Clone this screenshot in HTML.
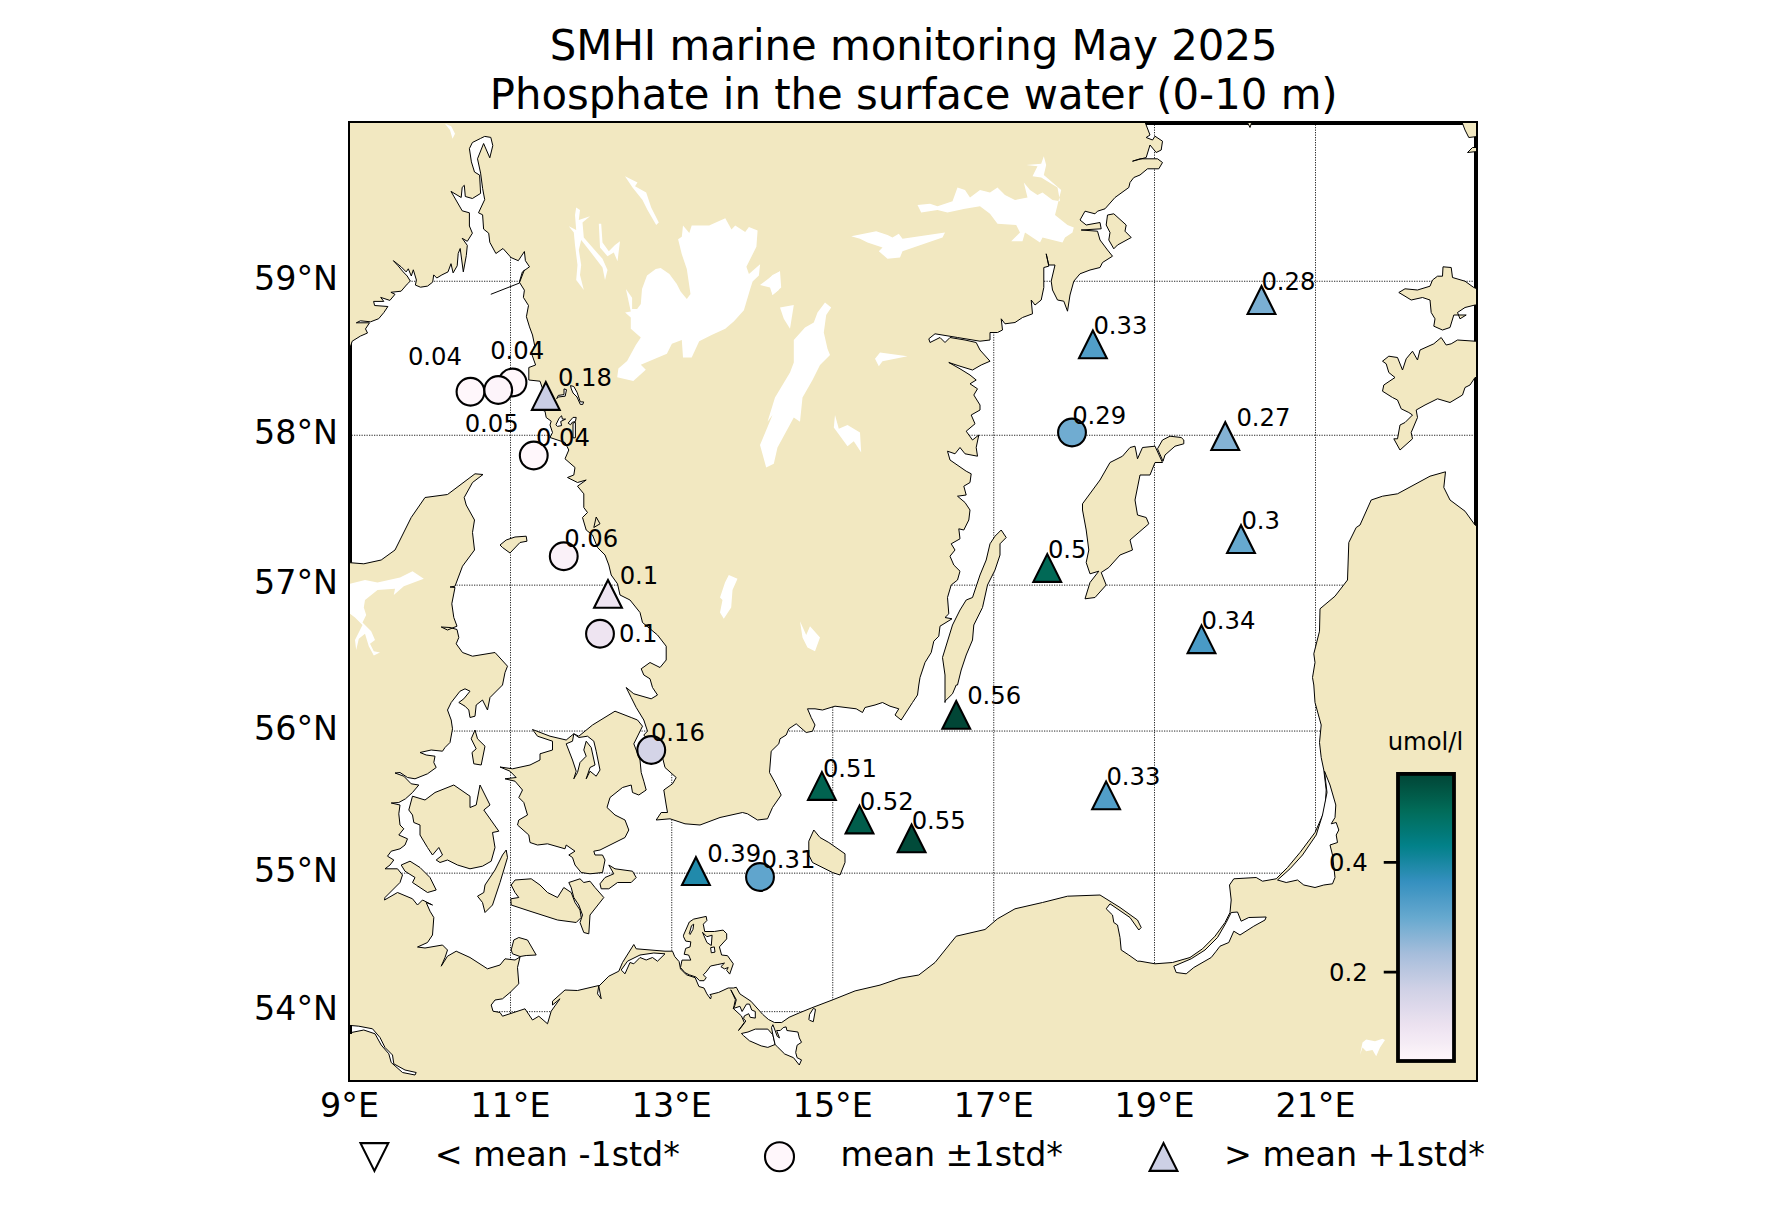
<!DOCTYPE html>
<html><head><meta charset="utf-8"><title>SMHI marine monitoring May 2025</title>
<style>
html,body{margin:0;padding:0;background:#fff;}
body{width:1773px;height:1227px;overflow:hidden;}
svg{display:block;font-family:"DejaVu Sans","Liberation Sans",sans-serif;fill:#000;}
.t{font-size:41.8px;text-anchor:middle;}
.k{font-size:33.33px;}
.l{font-size:24.3px;}
.g{stroke:#000;stroke-width:1;stroke-dasharray:1.25 1.25;fill:none;opacity:.85}
.c{fill:#f2e8c1;stroke:#000;stroke-width:1;stroke-linejoin:round;}
.w{fill:#fff;stroke:none;}
.f{fill:#fff;stroke:#000;stroke-width:1;stroke-linejoin:round;}
</style></head><body>
<svg width="1773" height="1227" viewBox="0 0 1773 1227">
<defs><clipPath id="m"><rect x="349" y="122" width="1128" height="959"/></clipPath>
<linearGradient id="cb" x1="0" y1="1" x2="0" y2="0">
<stop offset="0.0000" stop-color="#fff7fb"/>
<stop offset="0.0312" stop-color="#faf2f8"/>
<stop offset="0.0625" stop-color="#f5ecf5"/>
<stop offset="0.0938" stop-color="#f1e7f3"/>
<stop offset="0.1250" stop-color="#ece2f0"/>
<stop offset="0.1562" stop-color="#e5deed"/>
<stop offset="0.1875" stop-color="#ded9eb"/>
<stop offset="0.2188" stop-color="#d7d5e8"/>
<stop offset="0.2500" stop-color="#d0d1e6"/>
<stop offset="0.2812" stop-color="#c5cce3"/>
<stop offset="0.3125" stop-color="#bbc7e0"/>
<stop offset="0.3438" stop-color="#b0c2de"/>
<stop offset="0.3750" stop-color="#a5bddb"/>
<stop offset="0.4062" stop-color="#95b8d8"/>
<stop offset="0.4375" stop-color="#86b3d5"/>
<stop offset="0.4688" stop-color="#76aed2"/>
<stop offset="0.5000" stop-color="#66a9cf"/>
<stop offset="0.5312" stop-color="#5aa2cb"/>
<stop offset="0.5625" stop-color="#4e9cc7"/>
<stop offset="0.5938" stop-color="#4196c3"/>
<stop offset="0.6250" stop-color="#3590bf"/>
<stop offset="0.6562" stop-color="#288cb1"/>
<stop offset="0.6875" stop-color="#1b88a4"/>
<stop offset="0.7188" stop-color="#0e8496"/>
<stop offset="0.7500" stop-color="#028189"/>
<stop offset="0.7812" stop-color="#027b7d"/>
<stop offset="0.8125" stop-color="#017670"/>
<stop offset="0.8438" stop-color="#017164"/>
<stop offset="0.8750" stop-color="#016b58"/>
<stop offset="0.9062" stop-color="#01614f"/>
<stop offset="0.9375" stop-color="#015846"/>
<stop offset="0.9688" stop-color="#014e3e"/>
<stop offset="1.0000" stop-color="#014636"/>
</linearGradient></defs>
<rect width="1773" height="1227" fill="#fff"/>
<text class="t" transform="translate(913.7,60) scale(1,1.037)">SMHI marine monitoring May 2025</text>
<text class="t" transform="translate(913.7,108.5) scale(1,1.037)">Phosphate in the surface water (0-10 m)</text>
<g clip-path="url(#m)">
<path class="g" d="M510.5 122V1081"/>
<path class="g" d="M671.75 122V1081"/>
<path class="g" d="M832.75 122V1081"/>
<path class="g" d="M993.75 122V1081"/>
<path class="g" d="M1154.5 122V1081"/>
<path class="g" d="M1315.5 122V1081"/>
<path class="g" d="M349 281.25H1477"/>
<path class="g" d="M349 435.25H1477"/>
<path class="g" d="M349 585.15H1477"/>
<path class="g" d="M349 731.05H1477"/>
<path class="g" d="M349 873.15H1477"/>
<path class="g" d="M349 1011.65H1477"/>
<path d="M1100 123H1478M1476 122V600M350 300V600" stroke="#000" stroke-width="4" fill="none"/>
<path class="c" d="M340 110 L340 347 L350.2 347.3 L352.2 341.2 L360.4 336.1 L367.5 333 L365.5 328.9 L369.5 322.8 L356.3 322.8 L360.4 320.8 L370.6 321.8 L378.7 318.7 L383.8 312.6 L387.9 306.5 L374.6 305.5 L373.6 301.4 L383.8 301.4 L380.7 297.4 L389.9 300.4 L395 294.3 L390.9 292.3 L401.1 291.2 L407.2 284.1 L410.3 281.1 L407.2 276 L403.2 271.9 L398.1 265.8 L393.4 260.7 L401.1 266.8 L406.2 271.9 L408.3 268.8 L411.3 276 L413.3 269.8 L416.4 280 L415.4 285.1 L420.5 287.2 L427.6 286.1 L432.7 282.1 L433.7 274.9 L436.8 278 L441.9 274.9 L448 271.9 L451 263.7 L453.1 272.9 L457.2 265.8 L458.2 253.5 L460.2 248.5 L463.3 271.9 L466.3 255.6 L467.3 245.4 L462.2 238.3 L467.3 241.3 L472.4 233.2 L469.4 226 L469.4 212.8 L462.2 210.8 L451 191.4 L461.2 197.5 L462.2 187.3 L464.3 185.3 L465.3 196.5 L472.4 198.5 L480.6 193.4 L479.6 175.1 L474.5 172 L471.4 161.9 L469.4 148.6 L472.4 142.5 L480.6 138.4 L484.7 136.4 L490.8 137.4 L492.8 145.6 L489.8 157.8 L483.6 143.5 L477.5 158.8 L480.6 173.1 L482.6 188.3 L484.7 199.6 L478.5 212.8 L482.6 214.8 L483.6 229.1 L488.7 233.2 L489.8 242.3 L495.9 253.5 L503 248.5 L511.1 257.6 L518.3 260.7 L524.4 251.5 L525.4 260.7 L529.5 266.8 L522.4 271.9 L519.3 282.1 L524.4 290.2 L523.4 297.4 L528.5 305.5 L526.4 316.7 L529.5 326.9 L532.5 335 L534.6 345.2 L531.5 353.4 L535.6 365 L528.8 367.5 L528.8 380 L540 381.2 L543 390 L542 410 L545 411.2 L546.2 417.5 L551.2 421.2 L550 425 L552.5 432.5 L550 437.5 L565 442.5 L568.8 450 L565 458.8 L575 467.5 L573.8 475 L567.5 477.5 L577.5 482.5 L586.2 480 L577.5 486.2 L583.8 493.8 L583.8 507.5 L587.5 512.5 L582.5 517.5 L586.2 530 L592.5 535 L597.5 547.5 L605 555 L608.8 565 L611.2 575 L617.5 583.8 L620 595 L630 600 L640 612.5 L642.5 622.5 L657.5 635 L666.2 646.2 L666.2 660 L660 667.5 L650 662.5 L641.2 668.8 L643.8 675 L650 678.8 L652.5 687.5 L657.5 695 L651.2 698.8 L633.8 693.8 L626.2 687.5 L631.2 697.5 L636.2 707.5 L643.8 720 L647.5 731.2 L643.8 735 L662.5 757.5 L665 767.5 L676.2 777.5 L672.5 783.8 L663.8 790 L666.2 805 L667.5 812.5 L661.2 812.5 L656.2 820 L670 818.8 L685 823.8 L700 825 L720 817.5 L742.5 812.5 L747.5 813.8 L757.5 820 L767.5 818.8 L772.5 807.5 L781.2 795 L775 782.5 L769.5 772.5 L771.2 751.2 L778.8 743.8 L780 738.8 L786.2 735 L788.8 728.8 L796.2 723.8 L806.2 732.5 L812.5 731.2 L815 725 L811.2 717.5 L807.5 708.8 L815 708.8 L822.5 710 L835 706.2 L856.2 708.8 L862.5 712.5 L865 707.5 L875 705 L882.5 702.5 L890 706.2 L898.8 708.8 L895 715 L901.2 720 L912.5 702.5 L917.5 695 L918.8 685 L920 677.5 L925 662.5 L931.2 652.5 L933.8 641.2 L938.8 636.2 L940 626.2 L952 618.8 L945 617.5 L948.8 613.8 L947.5 597.5 L951.2 585 L957.5 580 L960 571.2 L953.8 565 L950 556.2 L955 550 L951.2 543.8 L960 538.8 L958.8 528.8 L963.8 530 L968.8 520 L970 510 L965 502.5 L957.5 496.2 L966.2 495 L963.8 486.2 L970 482.5 L971.2 473.8 L966.2 471.2 L950 460 L947.5 451.2 L955 453.8 L960 447.5 L965 453.8 L977.5 456.2 L976.2 447.5 L978.8 435 L972.5 440 L966.2 431.2 L975 423.8 L971.2 415 L980 410 L980 405 L973.8 395 L977.5 388.8 L970 383.8 L976.2 380 L970 375 L960 368.8 L948.8 362.5 L960 366.2 L972.5 370 L981.2 365 L990 361.2 L980 350 L976.2 342.5 L965 340 L950 337.5 L945 342.5 L940 337.5 L930 342.5 L928.8 338.8 L935 333.8 L957.5 337.5 L980 341.2 L990 340 L990 332.5 L997.5 332.5 L1002.5 330 L1001.2 318.8 L1005 323.8 L1015 322.5 L1022.5 317.5 L1032.5 313.8 L1031.2 300 L1035 305 L1041.2 300 L1043.8 287.5 L1043.8 267.5 L1048.8 266.2 L1046.2 253.8 L1048.8 265 L1055 265 L1051.2 281.2 L1052.5 290 L1057.5 300 L1063.8 301.2 L1067.5 311.2 L1070 295 L1073.8 281.2 L1080 273.8 L1090 270 L1100 267.5 L1102.5 262.5 L1112.5 256.2 L1107.5 250 L1100 240 L1097.5 231.2 L1081.2 230 L1101.2 228.8 L1100 222.5 L1086.2 225 L1080 220 L1085 211.2 L1095 213.8 L1097.5 211.2 L1105 208.8 L1115 197.5 L1128.8 187.5 L1130 182.5 L1133.8 177.5 L1140 175 L1147.5 168.8 L1158.8 168.8 L1162.5 162.5 L1157.5 158.8 L1140 158.8 L1132.5 161.2 L1146.2 157.5 L1150 145 L1156.2 152.5 L1161.2 150 L1162.5 141.2 L1155 136.2 L1152.5 140 L1146.2 137.5 L1150 135 L1145 122 L1145 110Z"/>
<path class="c" d="M340 562 L347.5 562.5 L363.8 563.8 L381.2 560 L395 550 L411.2 517.5 L425 497.5 L447.5 494.5 L475 473.8 L483 474.5 L472.5 482.5 L464.2 497.5 L466.2 505 L474.5 520 L472.5 532.5 L474.5 550 L462.5 566.2 L455 586.2 L450 587 L455 587.5 L451.8 603.8 L453.8 617.5 L457 626.2 L447.5 630 L441.2 627 L450 627.5 L457 629.5 L458.8 637.5 L456.2 643.8 L462.5 652.5 L472.5 656.2 L495 652.5 L507.5 666.2 L505 672.5 L502.5 685 L490 697.5 L487.5 710 L482.5 700 L476.2 705 L475 716.2 L470 717.5 L468.8 710 L465 706.2 L458.8 702.5 L463.8 698.8 L470 691.2 L465 688.8 L460 691.2 L451.2 702.5 L447.5 710 L451.2 720 L452.5 728.8 L450 742.5 L445 747.5 L442.5 751.2 L431.2 750 L420 752.5 L426.2 755 L435 756.2 L433.8 762.5 L436.2 767.5 L427.5 773.8 L415 778.8 L407.5 777.5 L400 772.5 L395 773 L403.8 776.2 L411.2 783.8 L418.8 785 L412.5 792.5 L405.5 798.8 L398.8 802.5 L391.2 803 L400 805 L398.8 813.8 L400 825 L403.8 828.8 L398.8 835 L407.5 838.8 L405 845 L400 848.8 L391.2 851.2 L387.5 856.2 L393.8 860 L390 865 L385 868.8 L397.5 868.8 L402.5 875 L400 882.5 L385 897.5 L384.5 900 L397.5 892.5 L412.5 898.8 L417.5 905 L422.5 900 L432.5 905 L426.2 902.5 L430 911.2 L433.8 917.5 L432.5 935 L427.5 942.5 L417.5 947 L425 948 L442.5 945 L447.5 950 L445 957.5 L441.2 966.2 L447.5 956.2 L456.2 951.2 L470 957.5 L487.5 968.8 L500 965 L505 958.8 L515 960 L520 957 L517.5 967.5 L518.8 983.8 L510 992.5 L502.5 998.8 L495 1000 L491.2 1005 L493 1011.2 L500 1012.5 L502.5 1016.2 L525 1008.8 L532.5 1020 L538.8 1016.2 L547.5 1023.8 L551.2 1011.2 L560 998.8 L552.5 1005 L552.5 1001.2 L565 990 L577.5 990.5 L598.8 985.5 L597.5 993.8 L601.2 998.8 L598.8 986.2 L608.8 976.2 L618.8 971.2 L622.5 962.5 L633.8 944.5 L636.2 948.8 L665 951.2 L672.5 951.2 L674.7 956.5 L679.1 961.6 L680.5 968.9 L686.4 974.8 L695.2 977.7 L698.9 986.5 L704 988 L706.9 993.9 L710.6 999 L711.3 996.1 L709.9 994.6 L718.7 992.4 L728.2 988 L733.3 988 L736.3 987.3 L739.9 993.9 L750.9 1001.2 L762.7 1014.4 L768.5 1019.5 L774.4 1022.5 L781.7 1022.5 L789.1 1017.3 L799.3 1012.9 L811.8 1007.8 L833.1 999.7 L855.1 990.9 L880 985.1 L900 978.2 L918.8 975 L935 962.5 L950 943.8 L956.2 936.2 L985 929.5 L997.5 918.8 L1015 908.8 L1042.5 902.5 L1067.5 896.2 L1100 895 L1120 907.5 L1137.5 920 L1141.2 927.5 L1138.8 930 L1130 917.5 L1110 903.8 L1106.2 908.8 L1112.5 915 L1113.8 922.5 L1117.5 925 L1120 937.5 L1121.2 950 L1128.8 955 L1137.5 961.2 L1140 961.2 L1155 963.8 L1172.5 962.5 L1190 957.5 L1202.5 948.8 L1215 936.2 L1225 922.5 L1230 912.5 L1231.2 900 L1229.5 885 L1233.8 878.8 L1256.2 877.5 L1262.5 881.2 L1276.2 878.8 L1287.5 867.5 L1300 852.5 L1315 832.5 L1325 810 L1326.2 790 L1323.8 770 L1321.2 757.5 L1319.5 742.5 L1321.2 725 L1315 702.5 L1313.8 685 L1312.5 677.5 L1315 662.5 L1313.8 653.8 L1319.5 631.2 L1320 608.8 L1335 596.2 L1347.5 580 L1348.8 542.5 L1356.2 527.5 L1360 525 L1371.2 500 L1382.5 496.2 L1397.5 493.8 L1430 476.2 L1445.5 471.8 L1443.8 487.5 L1450 500 L1465 511.2 L1475 525 L1477.5 526.2 L1490 526 L1490 1090 L340 1090Z"/>
<path class="c" d="M1107.5 215 L1113.8 213.8 L1126.2 225 L1125 231.2 L1131.2 237.5 L1117.5 245 L1113.8 248.8 L1108.8 240 L1110 232.5 L1106.2 225Z"/>
<path class="c" d="M1398.8 292.5 L1405 288.8 L1417.5 290 L1430 286.2 L1432.5 280 L1437.5 276.2 L1442.5 276.2 L1443 266.8 L1451.2 267.5 L1452.5 277.5 L1465 281.2 L1473.8 287.5 L1480 290 L1480 305 L1475 305 L1465 307.5 L1457.5 312.5 L1460 318.8 L1466.2 315 L1453.8 315 L1450 327.5 L1442.5 330 L1433.8 326.2 L1435 318.8 L1431.2 312.5 L1430 300 L1422.5 297.5 L1411.2 300 L1405 296.2Z"/>
<path class="c" d="M1382.5 361.2 L1388.8 356.2 L1397.5 357.5 L1402.5 370 L1406.2 358.8 L1412.5 351.2 L1417.5 360 L1420 350 L1433.8 343.8 L1441.2 337.5 L1446.2 345 L1451.2 343.8 L1457.5 340 L1475 341.2 L1482.5 341.2 L1482.5 377.5 L1475 377.5 L1470 385 L1465 387.5 L1462.5 395 L1450 402.5 L1437.5 398.8 L1425 405 L1416.2 410 L1417.5 417.5 L1411.2 432.5 L1412.5 438.8 L1400 450 L1393.8 438.8 L1397.5 438.8 L1400 425 L1405 422.5 L1412.5 415 L1408.8 412.5 L1401.2 408.8 L1397.5 400 L1392.5 397.5 L1382.5 391.2 L1383.8 385 L1395 377.5 L1388.8 372.5 L1386.2 363.8Z"/>
<path class="c" d="M1461.2 120 L1480 120 L1480 136.2 L1468.8 137.5 L1465 130Z"/>
<path class="c" d="M1467.5 152.5 L1472.5 147.5 L1480 147.5 L1480 151.2Z"/>
<path class="c" d="M1246.2 120 L1252.5 120 L1250 127.5Z"/>
<path class="c" d="M596.2 517 L600 523.8 L593.8 527.5Z"/>
<path class="c" d="M500 545 L506.2 540 L515 537 L526.2 536.2 L527 541.2 L520 542.5 L510 553 L502.5 547.5Z"/>
<path class="c" d="M1001.2 530 L1006.2 537.5 L1000 543.8 L1000 555 L995 570 L987.5 585 L982.5 607.5 L973.8 625 L972.5 640 L966.2 655 L961.2 670 L957.5 685 L956.2 685 L952.5 693.8 L945 701.2 L945 702.5 L945 675 L942.5 657.5 L952.5 625 L960 610 L966.2 600 L972.5 597.5 L980 575 L986.2 560 L990 543.8 L995 536.2Z"/>
<path class="c" d="M1085 598.8 L1090 582.5 L1098.8 571.2 L1090 573.8 L1086.2 562.5 L1088.8 550 L1086.2 530 L1082.5 510 L1082.5 503.8 L1100 480 L1110 462.5 L1122.5 456.2 L1130 447.5 L1135 446.2 L1137.5 458.8 L1142.5 447.5 L1155 446.2 L1162.5 462.5 L1155 462.5 L1150 475 L1140 475 L1135 500 L1137.5 515 L1146.2 517.5 L1148.8 523.8 L1130 540 L1132.5 550 L1120 555 L1108.8 567.5 L1101.2 572.5 L1106.2 585 L1095 597.5Z"/>
<path class="c" d="M1157.5 448.8 L1162.5 440 L1170 436.2 L1181.2 437.5 L1183.8 440 L1183.8 443.8 L1175 446.2 L1165 455 L1163 461.2Z"/>
<path class="c" d="M401.2 865 L410 861.2 L420 867.5 L430 877.5 L436.2 890 L427.5 892.5 L420 887.5 L412.5 882.5 L415 877.5 L405 871.2Z"/>
<path class="c" d="M412.5 796.2 L425 800 L435 792.5 L453.8 785 L470 796.2 L470 807.5 L476.2 805 L480 785 L490 805 L483.8 810 L498.8 831.2 L492.5 832.5 L495 847.5 L491.2 861.2 L482.5 866.2 L470 868.8 L457.5 865 L447.5 860 L440 862.5 L436.2 860 L442.5 855 L438.8 847.5 L432.5 855 L427.5 847.5 L420 835 L420 825 L413.8 822.5 L412.5 815 L408.8 810Z"/>
<path class="c" d="M506.2 850 L507.5 857.5 L500 882.5 L492.5 905 L485 912.5 L482.5 902.5 L477.5 896.2 L483.8 892.5 L485 885 L495 870 L502.5 855Z"/>
<path class="c" d="M475 730 L477.5 738.8 L485 746.2 L481.2 765 L473.8 763.8 L472 752.5 L476.2 748.8 L471.2 738.8Z"/>
<path class="c" d="M500 767 L512.5 768.8 L530 765 L540 760 L540 753.8 L552.5 750 L552.5 741.2 L537.5 736.2 L532.5 729.5 L550 736.2 L566.2 740 L573.8 733.8 L578.8 736.2 L592.5 725 L615 711.2 L631.2 717.5 L637.5 720 L642.5 726.2 L633.8 743.8 L640 760 L641.2 772.5 L643.8 781.2 L646.2 790 L638.8 795 L632.5 792.5 L631.2 785 L622.5 787.5 L610 797.5 L607 807.5 L615 815 L625 820 L628.8 830 L625 837.5 L610 845 L600 850 L593.8 851.2 L595 855 L602.5 855 L605 860 L602.5 872.5 L590 873.8 L581.2 872.5 L575 865 L572.5 857.5 L568.8 855 L575 851.2 L566.2 845 L565 848.8 L547.5 843.8 L537.5 845 L530 842.5 L528.8 835 L517.5 825 L518.8 820 L527.5 815 L523.8 802.5 L518.8 797.5 L522.5 790 L515 781.2 L505 778.8 L516.2 777.5 L510 771.2Z"/>
<path class="c" d="M511.2 885 L515 880 L531.2 878.8 L540 885 L547.5 892.5 L557.5 897.5 L563.8 887.5 L571.2 892.5 L575 902.5 L580 910 L581.2 917.5 L576.2 922.5 L557.5 920 L530 911.2 L511.2 905 L510.8 898.8 L518.8 897.5 L515 892.5Z"/>
<path class="c" d="M568.8 882.5 L580 878.8 L583.8 882.5 L590 881.2 L595 887.5 L603.8 897.5 L590 915 L588.8 933.8 L583.8 932.5 L580 922.5 L582.5 915 L578.8 905 L573.8 897.5 L571.2 887.5Z"/>
<path class="c" d="M600 883.8 L605 877.5 L613.8 873.8 L608.8 865 L615 868.8 L632.5 871.2 L636.2 877.5 L631.2 882.5 L617.5 882.5 L608.8 888.8 L601.2 888.8Z"/>
<path class="c" d="M683.5 935.2 L689.3 922 L693.7 919.1 L706.2 916.4 L706.9 920.5 L703.3 924.2 L704.7 931.5 L714.3 931.5 L723.1 930.1 L726.7 933.7 L726.7 938.9 L719.4 946.9 L721.6 955 L727.5 955.7 L733.3 963.8 L729.7 974.1 L726.7 970.4 L728.2 967.5 L724.5 968.9 L720.9 966.7 L724.5 963.1 L717.9 964.5 L710.6 966 L706.2 971.9 L703.3 974.8 L706.2 977.7 L704 980.7 L699.6 980.7 L695.9 977 L689.3 974.8 L684.9 972.6 L680.5 967.5 L682 960.1 L690.8 960.1 L688.6 955 L684.2 954.3 L685.7 948.4 L690.1 946.9 L690.8 941.8 L685.7 941.1 L683.5 936.7Z"/>
<path class="c" d="M511.2 950 L513.8 940 L518.8 937.5 L527.5 940 L536.2 955 L526.2 955.5 L520 956.5 L512.5 953.8Z"/>
<path class="c" d="M813.8 830 L820 837.5 L828.8 842.5 L845 853.8 L845 862.5 L840 875 L832.5 872.5 L812.5 862.5 L808.8 855 L808.8 841.2Z"/>
<path class="w" d="M617.2 377.3 L633.3 381 L645.8 369.8 L640.8 364.8 L666.9 353.7 L671.9 343.7 L681.8 340 L683 357.4 L691.7 357.4 L699.2 341.2 L711.6 335 L725.3 328.8 L734 321.3 L743.9 310.2 L750.2 289 L752.6 281.6 L758.9 275.4 L760.1 264.2 L748.9 274.1 L746.4 266.7 L756.4 246.8 L757.6 230.6 L748.9 226.9 L745.2 231.9 L735.2 225.6 L731.5 229.4 L725.3 218.2 L709.1 225.6 L691.7 225.6 L689.3 233.1 L683 225.6 L681.8 236.8 L678.1 239.3 L681.8 254.2 L686.8 269.1 L690.5 294 L686.8 299 L680.6 291.5 L676.8 284.1 L669.4 274.1 L660.7 267.9 L655.7 269.1 L647 275.4 L642 289 L640.8 303.9 L637.1 308.9 L632.1 308.9 L632.1 297.7 L625.9 289 L630.8 311.4 L625.1 312.6 L630.8 317.6 L630.8 328.8 L640.8 337.5 L635.8 345 L627.1 361.1 L618.4 368.6Z"/>
<path class="w" d="M625 176.2 L637.5 182.5 L635 186.2 L646.2 192.5 L651.2 207.5 L658.8 222.5 L656.2 225 L647.5 210 L642.5 200 L632.5 187.5Z"/>
<path class="w" d="M576.2 207.5 L580 210 L578.8 220 L590 216.2 L582.5 222.5 L583.8 237.5 L592.5 247.5 L602.5 258.8 L607.5 270 L605 280 L602.5 267.5 L590 251.2 L581.2 240 L578.8 250 L581.2 265 L580 275 L583.8 290 L576.2 280 L577.5 265 L575 245 L573.8 232.5 L568.8 226.2 L576.2 230 L575 215Z"/>
<path class="w" d="M598.8 223.8 L601.2 223.8 L602.5 242.5 L608.8 251.2 L615 245 L620 241.2 L617.5 261.2 L613.8 252.5 L607.5 256.2 L600 247.5Z"/>
<path class="w" d="M762.5 285 L772.5 275 L780 271.2 L778.8 290 L772.5 295 L770 282.5Z"/>
<path class="w" d="M445 123.8 L451.2 126.2 L455 133.8 L452.5 138.8 L450 130Z"/>
<path class="w" d="M917.5 205 L930 203.8 L937.5 206.2 L952.5 201.2 L957.5 187.5 L965 190 L970 197.5 L980 190 L990 192.5 L997.5 187.5 L1005 195 L1015 200 L1027.5 197.5 L1023.8 182.5 L1030 190 L1037.5 195 L1042.5 192.5 L1052.5 200 L1060 201.2 L1057.5 187.5 L1041.2 177.5 L1032.5 176.2 L1037.5 166.2 L1026.2 165 L1041.2 163.8 L1043.8 156.2 L1046.2 165 L1043.8 175 L1052.5 182.5 L1061.2 190 L1057.5 205 L1055 215 L1067.5 225 L1073.8 227.5 L1072.5 232.5 L1065 237.5 L1062.5 242.5 L1042.5 237.5 L1040 242.5 L1025 232.5 L1022.5 241.2 L1011.2 241.2 L1020 232.5 L1016.2 225 L997.5 223.8 L990 213.8 L980 206.2 L965 208.8 L947.5 212.5 L937.5 210 L921.2 212.5Z"/>
<path class="w" d="M851.2 236.2 L876.2 231.2 L887.5 235 L892.5 237.5 L898.8 233.8 L902.5 238.8 L945 232.5 L942.5 237.5 L902.5 251.2 L900 257.5 L887.5 258.8 L878.8 251.2 L882.5 247.5 L867.5 242.5 L860 238.8Z"/>
<path class="w" d="M825 302.5 L831.2 307.5 L826.2 315 L823.8 332.5 L827.5 348.8 L830 355 L820 365 L812.5 380 L802.5 397.5 L800 421.8 L793.8 417.5 L777.5 447.5 L773.8 463.8 L766.2 467.5 L760 445 L772.5 415 L767.5 421.8 L775 397.5 L790 372.5 L793.8 362.5 L793.8 340 L805 327.5 L813.8 322.5 L817.5 312.5Z"/>
<path class="w" d="M780 307.5 L793.8 305 L790 328.8 L783.8 318.8Z"/>
<path class="w" d="M760 285 L770 277.5 L780 271.2 L781.2 287.5 L772.5 295 L770 287.5Z"/>
<path class="w" d="M875 358.8 L880 352.5 L907.5 356.2 L882.5 361.2 L878.8 366.2Z"/>
<path class="w" d="M835 415 L838.8 428.8 L847.5 425 L860 432.5 L861.2 452.5 L853.8 441.2 L847.5 446.2 L833.8 427.5Z"/>
<path class="w" d="M800 621.2 L806.2 635 L810 626.2 L820 637.5 L815 651.2 L807.5 647.5 L802.5 637.5Z"/>
<path class="w" d="M728.8 575 L737.5 578.8 L732.5 590 L731.2 607.5 L723.8 618.8 L720 612.5 L722.5 600 L720 597.5 L725 582.5Z"/>
<path class="w" d="M1360 1055 L1362.5 1042.5 L1366.2 1039.5 L1375 1041.2 L1382.5 1038.8 L1385 1040 L1380 1047.5 L1376.2 1056.2 L1372.5 1050 L1366.2 1051.2 L1362.5 1047.5Z"/>
<path class="w" d="M345 585 L365 580 L377.5 582.5 L400 577.5 L412.5 571.2 L423.8 578.8 L403.8 586.2 L393.8 595 L395 588.8 L377.5 590 L365 600 L363.8 607.5 L366.2 615 L362.5 622.5 L371.2 631.2 L375 640 L370 643.8 L373.8 651.2 L380 652.5 L373.8 655.5 L368.8 646.2 L365 633.8 L358.8 638.8 L356.2 650 L355 640 L362.5 625 L355 617.5 L345 610Z"/>
<path class="f" d="M573.8 733.8 L578.8 737.5 L587.5 736.2 L593.8 741.2 L596.2 751.2 L600 770 L596.2 776.2 L590 771.2 L586.2 778.8 L590 767.5 L595 765 L591.2 747.5 L586.2 741.2 L583.8 750 L586.2 756.2 L580 762.5 L577.5 772.5 L573.8 778.8 L576.2 771.2 L572.5 760 L566.2 743.8 L572.5 741.2Z"/>
<path class="f" d="M1324.5 771.2 L1330 785 L1335.8 805 L1335 817.5 L1331.2 823.8 L1336.2 822.5 L1338.8 830 L1336.2 835 L1337.5 842.5 L1330 845 L1332.5 855 L1335 877.5 L1332.5 883.8 L1323.8 885 L1315 887.5 L1303.8 885 L1297.5 880 L1286.2 882.5 L1277.5 880 L1290 868.8 L1302.5 855 L1316.2 835 L1322.5 815 L1327 792.5Z"/>
<path class="f" d="M1226.2 922.5 L1231.2 912.5 L1237.5 912 L1241.2 921.2 L1248.8 917.5 L1266.2 917 L1265 920 L1253.8 926.2 L1240 935 L1233.8 931.2 L1228.8 942.5 L1220 946.2 L1216.2 951.2 L1211.2 957.5 L1193.8 967.5 L1186.2 973.8 L1176.2 972.5 L1173.8 966.2 L1191.2 958.8 L1205 950 L1217.5 937.5Z"/>
<path class="f" d="M733.3 1008.5 L739.9 1006.3 L742.1 1011.5 L746.5 1004.1 L749.5 1004.1 L751.7 1010 L755.3 1011.5 L755.3 1018.1 L750.2 1017.3 L748.7 1013.7 L744.3 1015.9 L743.6 1018.8 L745.8 1021 L742.1 1026.1 L738.5 1030.5 L744.3 1022.5 L741.4 1015.9Z"/>
<path class="f" d="M741.4 1033.5 L748 1032 L755.3 1029.1 L767.8 1029.1 L772.9 1034.9 L775.1 1044.5 L767.8 1047.4 L761.2 1045.9 L749.5 1040.8 L743.6 1035.7Z"/>
<path class="f" d="M772.9 1024.7 L777.3 1036.4 L779.5 1037.9 L776.6 1030.5 L780.3 1030.5 L783.2 1027.6 L786.1 1026.9 L786.9 1030.5 L797.9 1032 L799.3 1037.9 L801.5 1042.3 L797.1 1045.2 L795.7 1052.5 L797.1 1057.7 L801.5 1059.9 L799.3 1065 L793.5 1057.7 L784.7 1054 L777.3 1046.7 L775.1 1044.5 L772.9 1034.9 L771.5 1027.6Z"/>
<path class="f" d="M808.9 1019.5 L809.6 1014.4 L813.3 1008.5 L815.5 1009.3 L813.3 1021.7 L809.6 1020.3Z"/>
<path class="f" d="M730.8 989.8 L736.3 999.7 L734.8 1005.6 L733.3 1008.8 L734.1 1005.6 L735.4 999.7Z"/>
<path class="f" d="M621.2 970 L627.5 961.2 L640 955 L653.8 953 L665 953.8 L657.5 961.2 L652.5 957.5 L646.2 960 L640 957.5 L633.8 963.8 L630 962.5 L625 973.8Z"/>
<path class="f" d="M345 1025 L358.8 1026.2 L372.5 1028.8 L380 1037.5 L385 1047.5 L392.5 1055 L393.8 1063.8 L405 1070 L416.2 1072.5 L415 1075 L402.5 1072.5 L391.2 1062.5 L388.8 1053.8 L381.2 1045 L375 1033.8 L363.8 1030 L345 1033.8Z"/>
<path class="f" d="M689.3 933.7 L691.5 925.7 L693.7 924.2 L693 929.3 L690.1 934.5Z"/>
<path class="f" d="M702.5 932.3 L706.9 936.7 L712.1 935.2 L711.3 945.5 L706.9 942.5Z"/>
<path class="f" d="M710.6 947.7 L714.3 946.9 L715 952.1 L711.3 952.8Z"/>
<path class="f" d="M570.5 385.6 L573.8 386.5 L577 392.2 L580.3 401.9 L583.6 401.9 L582.8 404.4 L580.3 404.4 L577 397 L573 393 L571.3 388.9Z"/>
<path class="f" d="M564 388.9 L566.5 389.7 L565.2 396.2 L558.3 397 L556.7 398.7 L558.3 395.4 L564 394.6Z"/>
<path class="f" d="M555.9 424.8 L559.1 418.2 L561.6 415.8 L562.4 419.1 L565.6 419.1 L560.7 421.5 L561.6 425.6 L557.5 426.4Z"/>
<path class="f" d="M568.1 423.1 L573 417.4 L576.2 417.4 L575.4 421.5 L572.2 422.3 L570.5 424.8Z"/>
<path class="f" d="M573 423.1 L575.4 422.3 L575.4 437.8 L573 437.8Z"/>
<path d="M490.8 294.3L519.3 283.1L524.4 269.8" fill="none" stroke="#000" stroke-width="1"/>
</g>
<path d="M350 1025V1034" stroke="#000" stroke-width="4" fill="none"/>
<rect x="349" y="122" width="1128" height="959" fill="none" stroke="#000" stroke-width="2"/>
<circle cx="470.5" cy="391.75" r="13.9" fill="#fff7fb" stroke="#000" stroke-width="2.1"/>
<circle cx="512.5" cy="382.5" r="13.9" fill="#fff7fb" stroke="#000" stroke-width="2.1"/>
<circle cx="498.25" cy="390" r="13.9" fill="#fdf4fa" stroke="#000" stroke-width="2.1"/>
<circle cx="533.75" cy="455.5" r="13.9" fill="#fff7fb" stroke="#000" stroke-width="2.1"/>
<circle cx="563.75" cy="556.25" r="13.9" fill="#faf1f8" stroke="#000" stroke-width="2.1"/>
<circle cx="600" cy="633.75" r="13.9" fill="#eee4f1" stroke="#000" stroke-width="2.1"/>
<circle cx="651.25" cy="750" r="13.9" fill="#d4d4e7" stroke="#000" stroke-width="2.1"/>
<circle cx="760" cy="877" r="13.9" fill="#60a5cd" stroke="#000" stroke-width="2.1"/>
<circle cx="1072" cy="432.5" r="13.9" fill="#70acd1" stroke="#000" stroke-width="2.1"/>
<path d="M545.8 382.1 L531.9 409.9 L559.7 409.9Z" fill="#cacee5" stroke="#000" stroke-width="2.1" stroke-linejoin="miter"/>
<path d="M608 580 L594.1 607.8 L621.9 607.8Z" fill="#eee4f1" stroke="#000" stroke-width="2.1" stroke-linejoin="miter"/>
<path d="M1261.5 286.2 L1247.6 314 L1275.4 314Z" fill="#7aafd3" stroke="#000" stroke-width="2.1" stroke-linejoin="miter"/>
<path d="M1092.9 330.5 L1079 358.3 L1106.8 358.3Z" fill="#519ec8" stroke="#000" stroke-width="2.1" stroke-linejoin="miter"/>
<path d="M1225.25 422.2 L1211.35 450 L1239.15 450Z" fill="#84b2d4" stroke="#000" stroke-width="2.1" stroke-linejoin="miter"/>
<path d="M1241 525.2 L1227.1 553 L1254.9 553Z" fill="#66a9cf" stroke="#000" stroke-width="2.1" stroke-linejoin="miter"/>
<path d="M1201.5 625.35 L1187.6 653.15 L1215.4 653.15Z" fill="#499ac6" stroke="#000" stroke-width="2.1" stroke-linejoin="miter"/>
<path d="M1047.25 554.1 L1033.35 581.9 L1061.15 581.9Z" fill="#016956" stroke="#000" stroke-width="2.1" stroke-linejoin="miter"/>
<path d="M956.25 701 L942.35 728.8 L970.15 728.8Z" fill="#014636" stroke="#000" stroke-width="2.1" stroke-linejoin="miter"/>
<path d="M821.9 772.1 L808 799.9 L835.8 799.9Z" fill="#016350" stroke="#000" stroke-width="2.1" stroke-linejoin="miter"/>
<path d="M859.5 805.6 L845.6 833.4 L873.4 833.4Z" fill="#015d4b" stroke="#000" stroke-width="2.1" stroke-linejoin="miter"/>
<path d="M911.6 824.5 L897.7 852.3 L925.5 852.3Z" fill="#014b3a" stroke="#000" stroke-width="2.1" stroke-linejoin="miter"/>
<path d="M1106.1 781.5 L1092.2 809.3 L1120 809.3Z" fill="#519ec8" stroke="#000" stroke-width="2.1" stroke-linejoin="miter"/>
<path d="M695.9 857.2 L682 885 L709.8 885Z" fill="#218aab" stroke="#000" stroke-width="2.1" stroke-linejoin="miter"/>
<text class="l" x="407.9" y="364.75">0.04</text>
<text class="l" x="490.15" y="358.5">0.04</text>
<text class="l" x="557.9" y="386">0.18</text>
<text class="l" x="464.65" y="432">0.05</text>
<text class="l" x="535.9" y="446">0.04</text>
<text class="l" x="564.15" y="546.5">0.06</text>
<text class="l" x="619.65" y="584">0.1</text>
<text class="l" x="618.9" y="641.5">0.1</text>
<text class="l" x="650.9" y="741">0.16</text>
<text class="l" x="707.15" y="862.25">0.39</text>
<text class="l" x="761.4" y="868">0.31</text>
<text class="l" x="1072.15" y="423.5">0.29</text>
<text class="l" x="1047.9" y="558">0.5</text>
<text class="l" x="967.15" y="704">0.56</text>
<text class="l" x="822.9" y="777.25">0.51</text>
<text class="l" x="859.65" y="810.25">0.52</text>
<text class="l" x="911.65" y="829">0.55</text>
<text class="l" x="1106.4" y="785.25">0.33</text>
<text class="l" x="1093.4" y="334.25">0.33</text>
<text class="l" x="1261.4" y="289.75">0.28</text>
<text class="l" x="1236.4" y="426">0.27</text>
<text class="l" x="1241.4" y="529">0.3</text>
<text class="l" x="1201.4" y="629">0.34</text>
<text class="k" x="349.5" y="1117" text-anchor="middle">9°E</text>
<text class="k" x="510.5" y="1117" text-anchor="middle">11°E</text>
<text class="k" x="671.75" y="1117" text-anchor="middle">13°E</text>
<text class="k" x="832.75" y="1117" text-anchor="middle">15°E</text>
<text class="k" x="993.75" y="1117" text-anchor="middle">17°E</text>
<text class="k" x="1154.5" y="1117" text-anchor="middle">19°E</text>
<text class="k" x="1315.5" y="1117" text-anchor="middle">21°E</text>
<text class="k" x="338" y="289.85" text-anchor="end">59°N</text>
<text class="k" x="338" y="443.85" text-anchor="end">58°N</text>
<text class="k" x="338" y="593.75" text-anchor="end">57°N</text>
<text class="k" x="338" y="739.65" text-anchor="end">56°N</text>
<text class="k" x="338" y="881.75" text-anchor="end">55°N</text>
<text class="k" x="338" y="1020.25" text-anchor="end">54°N</text>
<rect x="1398" y="773.9" width="56" height="287.1" fill="url(#cb)" stroke="#000" stroke-width="3.8"/>
<path d="M1383.75 862.3H1397M1383.75 972.1H1397" stroke="#000" stroke-width="2.8" fill="none"/>
<text class="l" x="1367.7" y="871.3" text-anchor="end">0.4</text>
<text class="l" x="1367.7" y="981.1" text-anchor="end">0.2</text>
<text style="font-size:24.3px" x="1425.5" y="749.5" text-anchor="middle">umol/l</text>
<path d="M374.4 1170.9 L360.5 1143.1 L388.3 1143.1Z" fill="#fff" stroke="#000" stroke-width="2.1" stroke-linejoin="miter"/>
<text class="k" x="434.8" y="1166.25">&lt; mean -1std*</text>
<circle cx="779.5" cy="1156.75" r="14.5" fill="#fff7fb" stroke="#000" stroke-width="2.1"/>
<text class="k" x="840.5" y="1166.25">mean ±1std*</text>
<path d="M1163.5 1143.1 L1149.6 1170.9 L1177.4 1170.9Z" fill="#cdd0e5" stroke="#000" stroke-width="2.1" stroke-linejoin="miter"/>
<text class="k" x="1224" y="1166.25">&gt; mean +1std*</text>
</svg></body></html>
